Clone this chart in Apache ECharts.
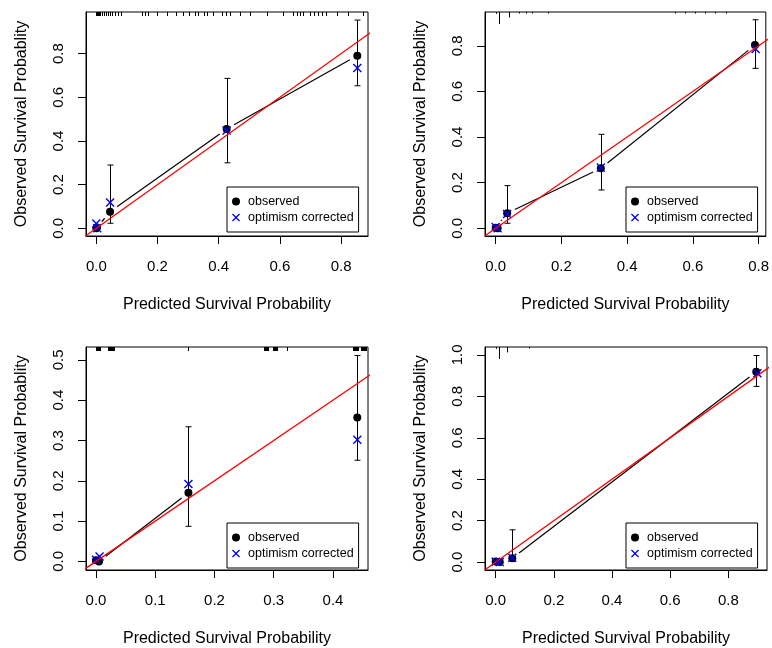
<!DOCTYPE html>
<html>
<head>
<meta charset="utf-8">
<title>Calibration plots</title>
<script src="https://cdn.jsdelivr.net/npm/echarts@6.0.0/dist/echarts.min.js"></script>
<style>
  html, body { margin: 0; padding: 0; background: #fff; }
  #chart { width: 772px; height: 648px; }
</style>
</head>
<body>
<div id="chart"></div>
<script>
// ---- data ----
// [predicted, observed]
var obs1  = [[0.000, 0.000], [0.002, 0.004], [0.045, 0.076], [0.426, 0.455], [0.853, 0.791]];
var corr1 = [[0.000, 0.022], [0.003, 0.000], [0.045, 0.118], [0.426, 0.448], [0.853, 0.734]];
var err1  = [[0.045, 0.023, 0.290], [0.426, 0.300, 0.687], [0.853, 0.653, 0.954]];
var curve1 = [[0.000, 0.000], [0.045, 0.076], [0.426, 0.455], [0.853, 0.791]];
var rug1 = [0.000, 0.002, 0.004, 0.006, 0.008, 0.010, 0.012, 0.019, 0.025, 0.032, 0.038, 0.045,
            0.051, 0.061, 0.071, 0.081, 0.149, 0.159, 0.169, 0.199, 0.231, 0.260, 0.283, 0.303,
            0.323, 0.332, 0.352, 0.362, 0.381, 0.411, 0.424, 0.437, 0.470, 0.502, 0.558, 0.610,
            0.643, 0.656, 0.666, 0.675, 0.698, 0.711, 0.725, 0.738, 0.751, 0.787, 0.823, 0.872];

var obs2  = [[0.000, 0.003], [0.006, 0.000], [0.035, 0.066], [0.320, 0.263], [0.789, 0.803]];
var corr2 = [[0.000, 0.006], [0.006, 0.000], [0.035, 0.063], [0.320, 0.266], [0.791, 0.786]];
var err2  = [[0.035, 0.022, 0.187], [0.320, 0.168, 0.412], [0.789, 0.701, 0.914]];
var curve2 = [[0.000, 0.003], [0.035, 0.066], [0.320, 0.263], [0.789, 0.803]];
// [value, relative frequency]
var rug2 = [[0.000, 0.15], [0.009, 1.0], [0.041, 0.45], [0.072, 0.1], [0.092, 0.1], [0.112, 0.1],
            [0.160, 0.08], [0.546, 0.1], [0.576, 0.1], [0.607, 0.1], [0.637, 0.1], [0.667, 0.1],
            [0.700, 0.08]];

var obs3  = [[0.000, 0.003], [0.005, 0.000], [0.156, 0.170], [0.441, 0.357]];
var corr3 = [[0.000, 0.004], [0.006, 0.012], [0.156, 0.192], [0.441, 0.302]];
var err3  = [[0.156, 0.087, 0.334], [0.441, 0.251, 0.511]];
var curve3 = [[0.005, 0.000], [0.156, 0.170]];
var rug3 = [0.000, 0.0015, 0.003, 0.0045, 0.006, 0.007, 0.021, 0.0225, 0.024, 0.0255, 0.027,
            0.0285, 0.030, 0.156, 0.284, 0.2855, 0.287, 0.2885, 0.290, 0.291, 0.298, 0.2995,
            0.301, 0.3025, 0.304, 0.305, 0.322, 0.433, 0.4345, 0.436, 0.4375, 0.439, 0.4405,
            0.442, 0.448, 0.4495, 0.451, 0.4525, 0.454, 0.4555];

var obs4  = [[0.000, 0.003], [0.014, 0.001], [0.057, 0.019], [0.896, 0.918]];
var corr4 = [[0.000, 0.002], [0.014, 0.000], [0.057, 0.021], [0.900, 0.911]];
var err4  = [[0.057, 0.004, 0.156], [0.896, 0.848, 0.997]];
var curve4 = [[0.000, 0.003], [0.014, 0.001], [0.057, 0.019], [0.896, 0.918]];
var rug4 = [[0.000, 0.15], [0.010, 1.0], [0.038, 0.45], [0.116, 0.12]];

var xTicks = [[0, 0.2, 0.4, 0.6, 0.8], [0, 0.2, 0.4, 0.6, 0.8], [0, 0.1, 0.2, 0.3, 0.4], [0, 0.2, 0.4, 0.6, 0.8]];
var yTicks = [[0, 0.2, 0.4, 0.6, 0.8], [0, 0.2, 0.4, 0.6, 0.8], [0, 0.1, 0.2, 0.3, 0.4, 0.5], [0, 0.2, 0.4, 0.6, 0.8, 1.0]];
var xRange = [[-0.0337, 0.888], [-0.0324, 0.822], [-0.0169, 0.4591], [-0.0368, 0.933]];
var yRange = [[-0.0353, 0.991], [-0.0337, 0.948], [-0.0214, 0.532], [-0.038, 1.038]];

var xTitle = 'Predicted Survival Probability';
var yTitle = 'Observed Survival Probablity';
var legendNames = ['observed', 'optimism corrected'];

var FONT = "'Liberation Sans', Arial, Helvetica, sans-serif";
var X_ICON = 'path://M0,11L11,0L50,39L89,0L100,11L61,50L100,89L89,100L50,61L11,100L0,89L39,50Z';

var gridBoxes = [
  {left: 86,  top: 12,  width: 282, height: 224},
  {left: 485, top: 12,  width: 282, height: 224},
  {left: 86,  top: 347, width: 282, height: 225},
  {left: 485, top: 347, width: 282, height: 225}
];
var legendBoxes = [
  {left: 227, top: 187}, {left: 626, top: 187},
  {left: 227, top: 523}, {left: 626, top: 523}
];

var panels = [
  {obs: obs1, corr: corr1, err: err1, curve: curve1, rug: rug1.map(function(v) { return [v, 1]; }), rugLen: 4},
  {obs: obs2, corr: corr2, err: err2, curve: curve2, rug: rug2, rugLen: 12},
  {obs: obs3, corr: corr3, err: err3, curve: curve3, rug: rug3.map(function(v) { return [v, 1]; }), rugLen: 4},
  {obs: obs4, corr: corr4, err: err4, curve: curve4, rug: rug4, rugLen: 12}
];

function fmt(v) { return v.toFixed(1); }

function renderErr(params, api) {
  var x = api.value(0);
  var lo = api.coord([x, api.value(1)]);
  var hi = api.coord([x, api.value(2)]);
  var cx = Math.round(lo[0]) + 0.5, w = 3;
  var st = {stroke: '#000', lineWidth: 1};
  return {type: 'group', children: [
    {type: 'line', shape: {x1: cx, y1: lo[1], x2: cx, y2: hi[1]}, style: st},
    {type: 'line', shape: {x1: cx - w, y1: lo[1], x2: cx + w, y2: lo[1]}, style: st},
    {type: 'line', shape: {x1: cx - w, y1: hi[1], x2: cx + w, y2: hi[1]}, style: st}
  ]};
}

// line joining points, with a gap around each point (like type = "b")
function renderSeg(params, api) {
  var a = api.coord([api.value(0), api.value(1)]);
  var b = api.coord([api.value(2), api.value(3)]);
  var dx = b[0] - a[0], dy = b[1] - a[1];
  var len = Math.sqrt(dx * dx + dy * dy), gap = 8.5;
  if (len <= 2 * gap) return {type: 'group', children: []};
  var ux = dx / len, uy = dy / len;
  return {type: 'line',
    shape: {x1: a[0] + ux * gap, y1: a[1] + uy * gap, x2: b[0] - ux * gap, y2: b[1] - uy * gap},
    style: {stroke: '#000', lineWidth: 1.2}};
}

function renderRug(len) {
  return function(params, api) {
    var cs = params.coordSys;
    var x = Math.round(api.coord([api.value(0), 0])[0]) + 0.5;
    return {type: 'line',
      shape: {x1: x, y1: cs.y, x2: x, y2: cs.y + Math.max(1.5, len * api.value(1))},
      style: {stroke: '#000', lineWidth: 1}};
  };
}

var grids = [], xAxes = [], yAxes = [], series = [], legends = [];

panels.forEach(function(p, i) {
  grids.push({left: gridBoxes[i].left, top: gridBoxes[i].top, width: gridBoxes[i].width,
    height: gridBoxes[i].height, show: true, borderColor: '#000', borderWidth: 1,
    backgroundColor: 'transparent'});

  xAxes.push({
    type: 'value', gridIndex: i, min: xRange[i][0], max: xRange[i][1],
    name: xTitle, nameLocation: 'middle', nameGap: 61,
    nameTextStyle: {fontFamily: FONT, fontSize: 16, color: '#000'},
    axisLine: {show: true, onZero: false, lineStyle: {color: '#000', width: 1}},
    axisTick: {show: true, length: 8, customValues: xTicks[i], lineStyle: {color: '#000'}},
    axisLabel: {customValues: xTicks[i], formatter: fmt, margin: 23,
      fontFamily: FONT, fontSize: 15, color: '#000'},
    splitLine: {show: false}
  });
  yAxes.push({
    type: 'value', gridIndex: i, min: yRange[i][0], max: yRange[i][1],
    name: yTitle, nameLocation: 'middle', nameGap: 56,
    nameTextStyle: {fontFamily: FONT, fontSize: 16, color: '#000'},
    axisLine: {show: true, onZero: false, lineStyle: {color: '#000', width: 1}},
    axisTick: {show: true, length: 8, customValues: yTicks[i], lineStyle: {color: '#000'}},
    axisLabel: {customValues: yTicks[i], formatter: fmt, rotate: 90, margin: 20,
      fontFamily: FONT, fontSize: 15, color: '#000'},
    splitLine: {show: false}
  });

  var segs = [];
  for (var k = 0; k + 1 < p.curve.length; k++) {
    segs.push([p.curve[k][0], p.curve[k][1], p.curve[k + 1][0], p.curve[k + 1][1]]);
  }
  var lo = Math.min(xRange[i][0], yRange[i][0]), hi = Math.max(xRange[i][1], yRange[i][1]);

  series.push(
    {type: 'custom', xAxisIndex: i, yAxisIndex: i, renderItem: renderSeg, data: segs,
      encode: {x: [0, 2], y: [1, 3]}, clip: true, z: 2, silent: true},
    {type: 'custom', xAxisIndex: i, yAxisIndex: i, renderItem: renderErr, data: p.err,
      encode: {x: 0, y: [1, 2]}, clip: true, z: 3, silent: true},
    {type: 'custom', xAxisIndex: i, yAxisIndex: i, renderItem: renderRug(p.rugLen), data: p.rug,
      encode: {x: 0}, clip: true, z: 3, silent: true},
    {name: legendNames[0], type: 'scatter', xAxisIndex: i, yAxisIndex: i, data: p.obs,
      symbol: 'circle', symbolSize: 8, itemStyle: {color: '#000', opacity: 1}, z: 4, silent: true},
    {name: legendNames[1], type: 'scatter', xAxisIndex: i, yAxisIndex: i, data: p.corr,
      symbol: X_ICON, symbolSize: 9, itemStyle: {color: '#0000ff', opacity: 1}, z: 5, silent: true},
    {type: 'line', xAxisIndex: i, yAxisIndex: i, data: [[lo, lo], [hi, hi]], symbol: 'none',
      lineStyle: {color: '#ff0000', width: 1.3}, clip: true, z: 6, silent: true}
  );

  legends.push({
    left: legendBoxes[i].left, top: legendBoxes[i].top, orient: 'vertical',
    selectedMode: false, padding: [7, 5, 7, 5], itemGap: 1, itemWidth: 14, itemHeight: 8,
    borderColor: '#000', borderWidth: 1, borderRadius: 0, backgroundColor: '#fff',
    textStyle: {fontFamily: FONT, fontSize: 12.5, lineHeight: 15, color: '#000'},
    data: [{name: legendNames[0], icon: 'circle'}, {name: legendNames[1], icon: X_ICON}]
  });
});

var chart = echarts.init(document.getElementById('chart'));
chart.setOption({
  animation: false,
  backgroundColor: '#fff',
  grid: grids,
  xAxis: xAxes,
  yAxis: yAxes,
  legend: legends,
  series: series
});
</script>
</body>
</html>
